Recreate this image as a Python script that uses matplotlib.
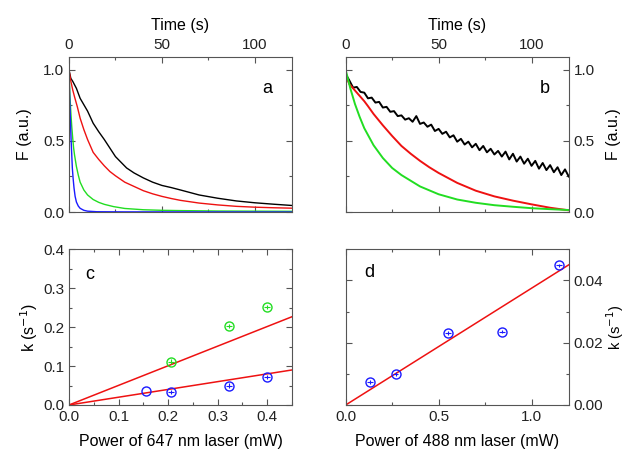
import matplotlib
matplotlib.use("Agg")
import numpy as np
import matplotlib.pyplot as plt
from matplotlib.ticker import MultipleLocator

# ===================== DATA =====================
# panel a : bleaching traces, 647 nm laser
t_a_black = [0, 1, 2, 4, 6, 8, 10, 13, 16, 19, 22, 25, 28, 31, 35, 40, 45, 50, 55, 60, 70, 80, 90, 100, 110, 120]
f_a_black = [1.0, 0.94, 0.92, 0.87, 0.80, 0.755, 0.71, 0.625, 0.565, 0.51, 0.45, 0.39, 0.35, 0.31, 0.275, 0.24,
             0.21, 0.187, 0.172, 0.155, 0.12, 0.097, 0.078, 0.065, 0.055, 0.046]
t_a_red = [0, 1, 2, 3, 4.5, 6, 8, 10, 13, 16, 19, 22, 25, 30, 35, 40, 45, 50, 55, 60, 70, 80, 90, 100, 110, 120]
f_a_red = [1.0, 0.92, 0.86, 0.81, 0.74, 0.66, 0.58, 0.51, 0.42, 0.37, 0.325, 0.285, 0.255, 0.21, 0.18, 0.15,
           0.128, 0.11, 0.095, 0.082, 0.063, 0.05, 0.04, 0.034, 0.03, 0.027]
t_a_green = [0, 0.5, 1, 1.5, 2, 2.5, 3, 4, 5, 6, 8, 10, 13, 16, 19, 24, 30, 40, 50, 60, 80, 100, 120]
f_a_green = [1.0, 0.82, 0.70, 0.60, 0.52, 0.45, 0.40, 0.32, 0.26, 0.21, 0.155, 0.12, 0.088, 0.068, 0.054,
             0.038, 0.025, 0.016, 0.012, 0.01, 0.007, 0.006, 0.005]
t_a_blue = [0, 0.25, 0.5, 0.8, 1.1, 1.5, 1.8, 2.2, 2.7, 3.3, 4, 5, 6, 8, 10, 15, 30, 120]
f_a_blue = [1.0, 0.87, 0.75, 0.63, 0.52, 0.40, 0.31, 0.24, 0.17, 0.11, 0.07, 0.042, 0.026, 0.012, 0.006,
            0.002, 0.001, 0.0]

# panel b : bleaching traces, 488 nm laser
t_b_black = list(range(0, 121, 2))
f_b_black = [0.97, 0.925, 0.875, 0.88, 0.845, 0.84, 0.80, 0.805, 0.77, 0.775, 0.735, 0.74, 0.705, 0.71, 0.675,
             0.68, 0.65, 0.66, 0.635, 0.675, 0.62, 0.63, 0.60, 0.615, 0.57, 0.585, 0.55, 0.565, 0.525, 0.54,
             0.495, 0.515, 0.475, 0.495, 0.455, 0.48, 0.435, 0.465, 0.42, 0.445, 0.405, 0.43, 0.39, 0.425, 0.37,
             0.41, 0.355, 0.39, 0.34, 0.375, 0.325, 0.36, 0.305, 0.345, 0.295, 0.33, 0.28, 0.315, 0.26, 0.30, 0.25]
t_b_red = [0, 2, 4, 6, 8, 10, 12, 15, 20, 25, 30, 35, 40, 45, 50, 55, 60, 70, 80, 90, 100, 110, 120]
f_b_red = [0.96, 0.90, 0.87, 0.84, 0.81, 0.78, 0.745, 0.69, 0.61, 0.535, 0.465, 0.41, 0.36, 0.315, 0.275,
           0.24, 0.205, 0.15, 0.11, 0.08, 0.054, 0.03, 0.012]
t_b_green = [0, 2.5, 5, 7.5, 10, 15, 20, 25, 30, 40, 50, 60, 70, 80, 90, 100, 110, 120]
f_b_green = [1.0, 0.87, 0.76, 0.67, 0.59, 0.47, 0.38, 0.31, 0.26, 0.18, 0.125, 0.088, 0.065, 0.048, 0.037,
             0.027, 0.02, 0.014]

# panel c : rate vs 647 nm power
p_c_green = [0.205, 0.323, 0.40]
k_c_green = [0.111, 0.203, 0.252]
e_c_green = [0.006, 0.006, 0.006]
p_c_blue = [0.155, 0.205, 0.323, 0.40]
k_c_blue = [0.037, 0.033, 0.050, 0.072]
e_c_blue = [0.0, 0.006, 0.006, 0.006]
slope_c = [0.504, 0.20]

# panel d : rate vs 488 nm power
p_d = [0.131, 0.269, 0.549, 0.841, 1.149]
k_d = [0.0073, 0.0099, 0.0231, 0.0236, 0.0448]
e_d = [0.0006, 0.0006, 0.0006, 0.0006, 0.0006]
slope_d = 0.0375

BLACK = "#000000"
RED = "#ee1111"
GREEN = "#22dd22"
BLUE = "#1a1aff"
FRAME = "#555555"
LABEL_FS = 11.5

plt.rcParams['font.family'] = ['Liberation Sans', 'DejaVu Sans']
plt.rcParams['font.size'] = 11

fig = plt.figure(figsize=(6.26, 4.49), dpi=100)
ax_a = fig.add_axes([0.1102, 0.5278, 0.3563, 0.345])
ax_b = fig.add_axes([0.5522, 0.5278, 0.3563, 0.345])
ax_c = fig.add_axes([0.1102, 0.098, 0.3563, 0.3468])
ax_d = fig.add_axes([0.5522, 0.098, 0.3563, 0.3468])


def style(ax):
    for s in ax.spines.values():
        s.set_color(FRAME)
        s.set_linewidth(0.8)
    ax.tick_params(which='both', direction='in', top=True, bottom=True, left=True, right=True,
                   color=FRAME, width=0.8, labelcolor='#222222')
    ax.tick_params(which='major', length=4)
    ax.tick_params(which='minor', length=2.5)


# ---- a ----
ax_a.plot(t_a_black, f_a_black, color=BLACK, lw=1.0)
ax_a.plot(t_a_red, f_a_red, color=RED, lw=1.0)
ax_a.plot(t_a_green, f_a_green, color=GREEN, lw=1.0)
ax_a.plot(t_a_blue, f_a_blue, color=BLUE, lw=1.0)
ax_a.set_xlim(0, 120)
ax_a.set_ylim(0, 1.09)
style(ax_a)
ax_a.xaxis.set_major_locator(MultipleLocator(50))
ax_a.xaxis.set_minor_locator(MultipleLocator(25))
ax_a.yaxis.set_major_locator(MultipleLocator(0.5))
ax_a.yaxis.set_minor_locator(MultipleLocator(0.25))
ax_a.tick_params(labeltop=True, labelbottom=False)
ax_a.xaxis.set_label_position('top')
ax_a.set_xlabel('Time (s)', labelpad=6, fontsize=LABEL_FS)
ax_a.set_ylabel('F (a.u.)', labelpad=8, fontsize=LABEL_FS)
ax_a.text(0.89, 0.80, 'a', transform=ax_a.transAxes, fontsize=13, ha='center', va='center')

# ---- b ----
ax_b.plot(t_b_black, f_b_black, color=BLACK, lw=1.4)
ax_b.plot(t_b_red, f_b_red, color=RED, lw=1.4)
ax_b.plot(t_b_green, f_b_green, color=GREEN, lw=1.4)
ax_b.set_xlim(0, 120)
ax_b.set_ylim(0, 1.09)
style(ax_b)
ax_b.xaxis.set_major_locator(MultipleLocator(50))
ax_b.xaxis.set_minor_locator(MultipleLocator(25))
ax_b.yaxis.set_major_locator(MultipleLocator(0.5))
ax_b.yaxis.set_minor_locator(MultipleLocator(0.25))
ax_b.tick_params(labeltop=True, labelbottom=False, labelleft=False, labelright=True)
ax_b.xaxis.set_label_position('top')
ax_b.yaxis.set_label_position('right')
ax_b.set_xlabel('Time (s)', labelpad=6, fontsize=LABEL_FS)
ax_b.set_ylabel('F (a.u.)', labelpad=8, rotation=90, fontsize=LABEL_FS)
ax_b.text(0.894, 0.80, 'b', transform=ax_b.transAxes, fontsize=13, ha='center', va='center')

# ---- c ----
xc = np.array([0, 0.45])
for s in slope_c:
    ax_c.plot(xc, s * xc, color=RED, lw=1.1)
ax_c.errorbar(p_c_green, k_c_green, yerr=e_c_green, xerr=0.006, fmt='o', mfc='none', mec=GREEN,
              ecolor=GREEN, ms=6.5, mew=1.0, elinewidth=0.8, capsize=0)
ax_c.errorbar(p_c_blue, k_c_blue, yerr=e_c_blue, xerr=[0 if e == 0 else 0.006 for e in e_c_blue], fmt='o',
              mfc='none', mec=BLUE, ecolor=BLUE, ms=6.5, mew=1.0, elinewidth=0.8, capsize=0)
ax_c.set_xlim(0, 0.45)
ax_c.set_ylim(0, 0.4)
style(ax_c)
ax_c.xaxis.set_major_locator(MultipleLocator(0.1))
ax_c.xaxis.set_minor_locator(MultipleLocator(0.05))
ax_c.yaxis.set_major_locator(MultipleLocator(0.1))
ax_c.yaxis.set_minor_locator(MultipleLocator(0.05))
ax_c.set_xlabel('Power of 647 nm laser (mW)', labelpad=7, fontsize=LABEL_FS)
ax_c.set_ylabel('k (s$^{-1}$)', labelpad=2, fontsize=LABEL_FS)
ax_c.text(0.094, 0.835, 'c', transform=ax_c.transAxes, fontsize=13, ha='center', va='center')

# ---- d ----
xd = np.array([0, 1.2])
ax_d.plot(xd, slope_d * xd, color=RED, lw=1.1)
ax_d.errorbar(p_d, k_d, yerr=e_d, xerr=0.015, fmt='o', mfc='none', mec=BLUE, ecolor=BLUE,
              ms=6.5, mew=1.0, elinewidth=0.8, capsize=0)
ax_d.set_xlim(0, 1.2)
ax_d.set_ylim(0, 0.05)
style(ax_d)
ax_d.xaxis.set_major_locator(MultipleLocator(0.5))
ax_d.xaxis.set_minor_locator(MultipleLocator(0.25))
ax_d.yaxis.set_major_locator(MultipleLocator(0.02))
ax_d.yaxis.set_minor_locator(MultipleLocator(0.01))
ax_d.tick_params(labelleft=False, labelright=True)
ax_d.yaxis.set_label_position('right')
ax_d.set_xlabel('Power of 488 nm laser (mW)', labelpad=7, fontsize=LABEL_FS)
ax_d.set_ylabel('k (s$^{-1}$)', labelpad=1, fontsize=10.5)
ax_d.text(0.105, 0.85, 'd', transform=ax_d.transAxes, fontsize=13, ha='center', va='center')

fig.savefig('out.png', dpi=100)
